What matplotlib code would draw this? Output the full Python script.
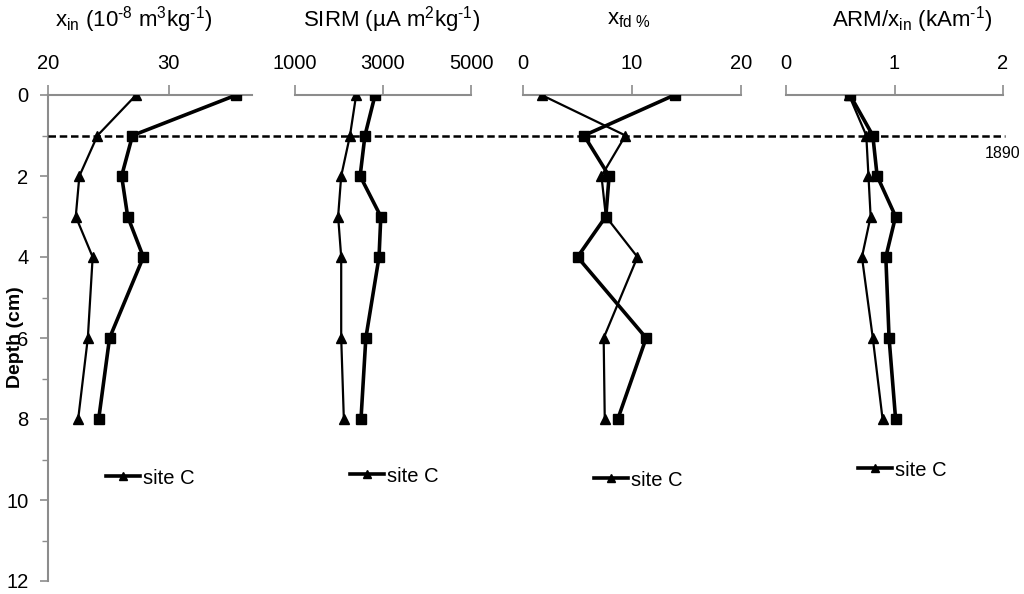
import matplotlib
matplotlib.use("Agg")
import matplotlib.pyplot as plt
from matplotlib.lines import Line2D
from matplotlib.ticker import FixedLocator, MultipleLocator
import matplotlib.transforms as mtransforms

plt.rcParams['font.family'] = ['Liberation Sans', 'DejaVu Sans']
plt.rcParams['mathtext.fontset'] = 'custom'
plt.rcParams['mathtext.rm'] = 'Liberation Sans'
plt.rcParams['mathtext.it'] = 'Liberation Sans:italic'
plt.rcParams['mathtext.bf'] = 'Liberation Sans:bold'

# ---- data ----
depth = [0, 1, 2, 3, 4, 6, 8]

xin_sq = [35.6, 27.0, 26.1, 26.6, 27.9, 25.1, 24.2]
xin_tri = [27.3, 24.1, 22.6, 22.3, 23.7, 23.3, 22.5]

sirm_sq = [2820, 2590, 2480, 2950, 2910, 2610, 2500]
sirm_tri = [2390, 2250, 2050, 1980, 2050, 2050, 2110]

xfd_sq = [13.9, 5.6, 7.9, 7.6, 5.0, 11.3, 8.7]
xfd_tri = [1.7, 9.4, 7.2, 7.6, 10.5, 7.4, 7.5]

arm_sq = [0.59, 0.80, 0.84, 1.01, 0.92, 0.95, 1.01]
arm_tri = [0.58, 0.74, 0.76, 0.78, 0.70, 0.80, 0.89]

titles = [r'x$_{\mathrm{in}}$ (10$^{\text{-8}}$ m$^{\mathrm{3}}$kg$^{\text{-1}}$)',
          r'SIRM (µA m$^{\mathrm{2}}$kg$^{\text{-1}}$)',
          r'x$_{\mathrm{fd}\ \%}$',
          r'ARM/x$_{\mathrm{in}}$ (kAm$^{\text{-1}}$)']
xticks = [[20, 30], [1000, 3000, 5000], [0, 10, 20], [0, 1, 2]]
xlims = [(20, 36.9), (1000, 5000), (0, 20), (0, 2)]
legend_label = 'site C'
marker_depth = 1.0
marker_label = '1890'
yticks = [0, 2, 4, 6, 8, 10, 12]

series = [(xin_sq, xin_tri), (sirm_sq, sirm_tri), (xfd_sq, xfd_tri), (arm_sq, arm_tri)]

# ---- layout ----
W, H = 1024, 594
fig = plt.figure(figsize=(W / 100, H / 100), dpi=100)
panel_px = [(48, 252), (295, 471), (523, 741), (786, 1003)]
top_px, bot_px = 95, 581
title_x_px = [134, 392, 629, 912]
legend_pos_px = [(106, 478), (350, 476), (594, 480), (858, 470)]
axis_grey = '#8c8c8c'

axes = []
for i, (x0, x1) in enumerate(panel_px):
    ax = fig.add_axes([x0 / W, 1 - bot_px / H, (x1 - x0) / W, (bot_px - top_px) / H])
    axes.append(ax)
    sq, tri = series[i]
    ax.plot(sq, depth, color='black', lw=2.6, marker='s', ms=7, mfc='black', mec='black', zorder=3)
    ax.plot(tri, depth, color='black', lw=1.6, marker='^', ms=7, mfc='black', mec='black', zorder=3)
    ax.set_xlim(*xlims[i])
    ax.set_ylim(12, 0)
    ax.xaxis.tick_top()
    ax.xaxis.set_major_locator(FixedLocator(xticks[i]))
    ax.tick_params(axis='x', direction='out', length=7, width=1.2, color=axis_grey,
                   labelsize=14.5, pad=9)
    ax.set_xticklabels([str(t) for t in xticks[i]])
    for s in ['right', 'bottom']:
        ax.spines[s].set_visible(False)
    ax.spines['top'].set_color(axis_grey)
    ax.spines['top'].set_linewidth(1.5)
    if i == 0:
        ax.spines['left'].set_color(axis_grey)
        ax.spines['left'].set_linewidth(1.5)
        ax.yaxis.set_major_locator(FixedLocator(yticks))
        ax.yaxis.set_minor_locator(MultipleLocator(1))
        ax.tick_params(axis='y', which='major', direction='out', length=6, width=1.2,
                       color=axis_grey, labelsize=14.5, pad=8)
        ax.tick_params(axis='y', which='minor', direction='out', length=4, width=1.0,
                       color=axis_grey)
        ax.set_yticklabels([str(t) for t in yticks])
    else:
        ax.spines['left'].set_visible(False)
        ax.tick_params(axis='y', which='both', left=False, labelleft=False)
    ax.patch.set_alpha(0)
    fig.text(title_x_px[i] / W, 1 - 20 / H, titles[i], ha='center', va='center', fontsize=16)
    handle = Line2D([], [], color='black', lw=2.6, marker='^', ms=6, mfc='black', mec='black')
    lx, ly = legend_pos_px[i]
    fig.legend([handle], [legend_label], loc='center left',
               bbox_to_anchor=(lx / W, 1 - ly / H), bbox_transform=fig.transFigure,
               frameon=False, fontsize=14.5, handlelength=1.7, handletextpad=0.15,
               borderpad=0, borderaxespad=0)

# y label
fig.text(16 / W, 1 - 337 / H, 'Depth (cm)', rotation=90, ha='center', va='center',
         fontsize=14, fontweight='bold')

# dashed 1890 line spanning all panels
trans = mtransforms.blended_transform_factory(fig.transFigure, axes[0].transData)
fig.add_artist(Line2D([48 / W, 1005 / W], [marker_depth, marker_depth], transform=trans,
                      color='black', lw=1.8, ls=(0, (3, 1.5)), zorder=5))
fig.text(1003 / W, 1 - 153 / H, marker_label, ha='center', va='center', fontsize=11.5)

fig.savefig('out.png', dpi=100)
